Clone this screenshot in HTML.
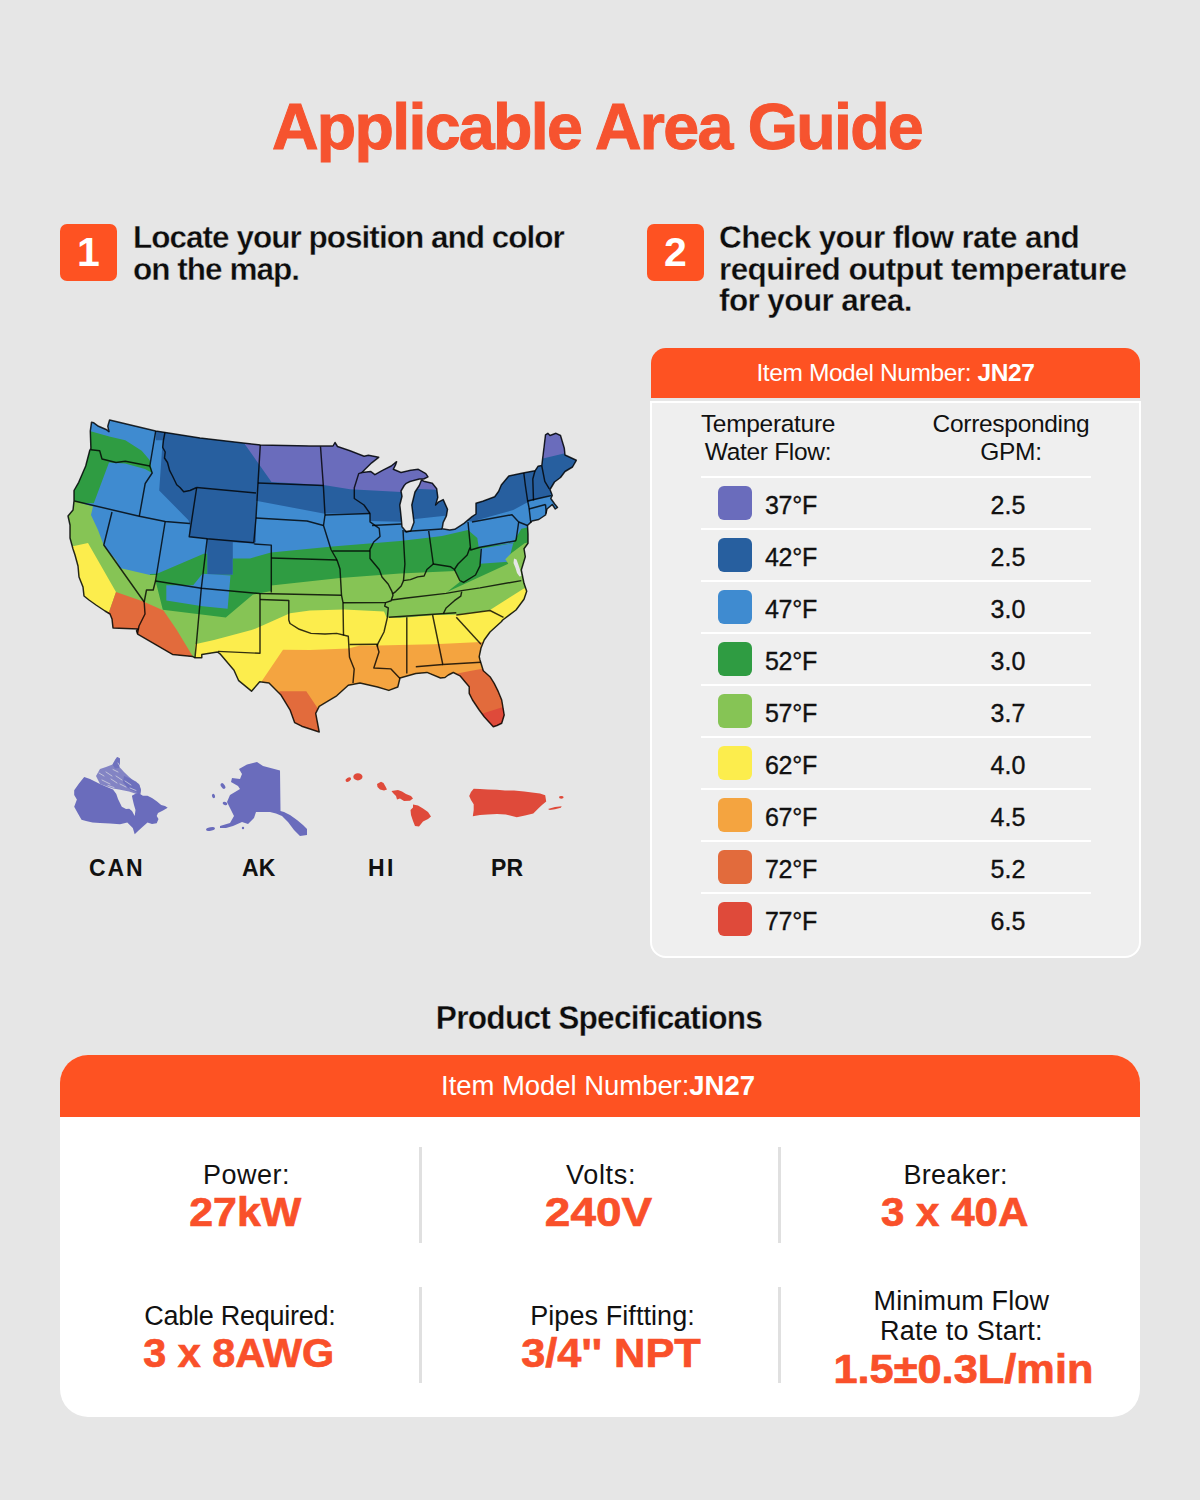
<!DOCTYPE html>
<html><head><meta charset="utf-8">
<style>
*{margin:0;padding:0;box-sizing:border-box}
html,body{width:1200px;height:1500px;overflow:hidden}
body{background:#e6e6e6;font-family:"Liberation Sans",sans-serif;position:relative;color:#111}
.a{position:absolute;white-space:nowrap;line-height:1}
.or{color:#f9502a}
.b{font-weight:700}
#title{left:-3px;width:1200px;text-align:center;top:95px;font-size:64.5px;font-weight:700;letter-spacing:-1.7px;color:#f6532f;-webkit-text-stroke:1px #f6532f}
.num{width:57px;height:57px;border-radius:7px;background:#fe5222;color:#fff;font-weight:700;font-size:41px;text-align:center;line-height:57px}
.step{font-weight:700;font-size:31.5px;line-height:31.7px;letter-spacing:-0.6px;color:#0d0d0d;-webkit-text-stroke:0.35px #e6e6e6}
#th{left:651px;top:348px;width:489px;height:50px;background:#fe5222;border-radius:15px 15px 0 0;color:#fff;font-size:24.5px;text-align:center;line-height:50px;letter-spacing:-0.4px}
#tb{left:650px;top:400.5px;width:491px;height:557.5px;background:#efefef;border:2.5px solid #fff;border-top-width:2.5px;border-radius:0 0 16px 16px}
.sep{position:absolute;left:701px;width:390px;height:2px;background:#fff}
.sw{position:absolute;left:718px;width:34px;height:34px;border-radius:6px}
.tt{position:absolute;left:765px;font-size:25px;line-height:1;color:#111;letter-spacing:-0.3px;-webkit-text-stroke:0.35px #111}
.gv{position:absolute;left:958px;width:100px;text-align:center;font-size:25px;line-height:1;color:#111;-webkit-text-stroke:0.35px #111}
.ch{position:absolute;font-size:24.5px;line-height:27.7px;text-align:center;color:#111;letter-spacing:-0.3px}
#ps{left:-1.5px;width:1200px;text-align:center;top:1000.5px;font-size:33.5px;font-weight:700;letter-spacing:-0.8px;color:#0d0d0d;transform:scaleX(0.945);-webkit-text-stroke:0.35px #e6e6e6}
#card{left:60px;top:1055px;width:1080px;height:362px;background:#fff;border-radius:28px;overflow:hidden}
#ch{position:absolute;left:0;text-indent:-4px;top:0;width:1080px;height:62px;background:#fe5222;color:#fff;font-size:27.5px;text-align:center;line-height:62px;letter-spacing:-0.05px}
.dv{position:absolute;width:3px;background:#e0e0e0}
.lab{position:absolute;text-align:center;font-size:27px;line-height:1;color:#111;letter-spacing:0px}
.val{position:absolute;text-align:center;font-size:41.5px;line-height:1;font-weight:700;color:#f9502a;-webkit-text-stroke:0.7px #f9502a}
.val span{display:inline-block;transform-origin:50% 50%}
.ml{position:absolute;font-weight:700;font-size:23px;line-height:1;color:#111;text-align:center;width:100px}
</style></head><body>

<div id="title" class="a">Applicable Area Guide</div>

<div class="a num" style="left:60px;top:224px">1</div>
<div class="a step" style="left:133px;top:222px;letter-spacing:-0.98px">Locate your position and color<br>on the map.</div>

<div class="a num" style="left:647px;top:224px">2</div>
<div class="a step" style="left:719px;top:222px">Check your flow rate and<br>required output temperature<br>for your area.</div>

<!-- MAP -->
<svg style="position:absolute;left:0;top:0" width="600" height="900" viewBox="0 0 600 900">
<defs><clipPath id="us"><path d="M91.5,422.3 L93.8,422.8 L98.5,426.3 L106.7,429.8 L109.0,431.6 L107.8,426.3 L109.6,419.9 L155.7,431.0 L200.0,438.0 L260.3,444.9 L310.0,446.0 L333.0,446.0 L335.0,442.5 L337.5,446.5 L350.0,450.8 L364.1,456.3 L368.4,455.2 L378.7,457.3 L371.7,462.8 L364.1,470.3 L362.0,472.5 L370.6,471.4 L374.9,474.7 L382.5,470.3 L391.2,466.0 L396.6,461.7 L395.5,464.9 L393.3,469.3 L401.0,472.5 L410.7,470.3 L418.3,469.3 L425.8,473.6 L428.0,476.8 L423.7,479.0 L419.3,479.0 L410.0,481.5 L406.3,483.3 L404.2,485.5 L401.0,491.0 L402.0,496.3 L399.8,505.0 L401.0,515.8 L402.0,526.7 L406.3,532.0 L410.7,531.0 L414.0,522.3 L411.8,505.0 L415.0,492.0 L419.3,485.5 L421.5,480.0 L423.7,481.2 L432.3,483.3 L436.7,488.8 L437.8,497.4 L435.6,505.0 L438.8,501.8 L443.2,499.6 L447.5,509.3 L446.4,515.8 L443.2,522.3 L442.1,528.8 L449.7,529.9 L454.7,529.3 L464.0,523.3 L472.0,516.7 L476.0,514.0 L476.0,503.3 L482.7,501.3 L494.7,496.7 L498.7,491.3 L501.3,485.0 L508.8,476.0 L523.0,473.0 L535.0,470.8 L538.0,466.3 L541.8,465.5 L544.0,447.5 L545.5,434.8 L547.8,433.3 L550.0,435.5 L556.0,433.3 L560.5,435.5 L564.3,448.3 L565.0,455.0 L576.3,460.3 L572.5,467.0 L565.0,471.5 L560.5,477.5 L554.5,482.0 L550.0,489.5 L552.3,495.5 L550.8,498.5 L554.5,503.8 L557.5,507.5 L555.3,509.0 L552.3,504.5 L547.0,509.0 L545.5,515.0 L538.8,519.5 L532.0,521.0 L527.5,525.5 L528.0,534.0 L528.0,543.3 L524.0,548.7 L525.3,556.7 L521.3,570.0 L524.0,583.3 L526.7,591.3 L524.0,599.3 L516.0,610.0 L502.7,620.0 L501.3,621.8 L490.0,632.0 L484.2,640.0 L481.0,648.0 L479.2,656.7 L480.0,660.0 L483.3,670.8 L490.0,676.7 L494.2,683.3 L498.3,691.7 L501.7,700.0 L504.2,715.0 L501.7,723.3 L497.0,725.5 L493.3,726.7 L491.7,725.0 L484.2,716.7 L479.2,710.0 L472.5,700.0 L469.2,693.3 L469.2,686.7 L465.0,681.7 L460.0,675.8 L453.3,672.5 L448.3,675.0 L445.0,677.5 L440.5,678.0 L427.0,672.4 L415.8,673.5 L400.0,678.0 L397.8,687.0 L388.8,690.4 L377.5,687.0 L360.0,683.0 L348.3,685.3 L336.7,695.8 L325.0,702.8 L319.2,706.3 L315.7,713.3 L319.2,732.0 L301.7,726.2 L294.7,722.7 L290.0,709.8 L280.7,694.7 L269.0,683.0 L259.7,681.8 L251.5,691.2 L238.7,680.7 L234.0,670.2 L220.0,653.8 L217.5,652.0 L201.8,654.4 L201.8,657.8 L195.0,657.8 L192.8,656.6 L172.5,654.4 L137.6,634.1 L136.5,630.8 L138.0,629.0 L113.0,628.0 L112.0,619.0 L110.0,614.0 L105.0,611.0 L96.0,605.0 L89.0,600.0 L84.0,596.0 L83.0,587.0 L79.0,577.0 L78.0,566.0 L75.0,555.0 L73.0,549.0 L70.0,538.0 L70.0,525.0 L68.0,516.0 L73.0,510.0 L74.0,501.0 L74.0,490.5 L78.7,482.3 L85.7,466.0 L89.8,450.3 L90.9,448.5 L90.3,431.0 Z"/></clipPath></defs>
<g clip-path="url(#us)">
<rect x="50" y="400" width="550" height="350" fill="#3f8bd0"/>
<polygon points="155.7,415.0 600.0,415.0 600.0,490.0 560.0,490.0 549.3,495.3 528.0,502.0 513.3,510.0 472.0,521.4 455.0,520.0 445.3,515.8 415.0,519.0 400.0,521.7 370.0,521.0 370.0,513.5 323.5,513.5 256.0,500.7 256.0,542.0 253.7,543.5 232.8,542.2 232.8,574.8 207.2,574.8 207.2,538.7 189.7,537.0 189.7,523.5 188.3,520.0 159.2,490.5 162.7,440.3 155.7,440.3" fill="#275f9f"/>
<polygon points="244.5,415.0 244.5,443.8 271.5,482.0 323.5,485.0 350.0,489.3 401.0,492.0 415.0,488.8 436.7,489.8 460.0,490.0 460.0,415.0" fill="#6a6cbc"/>
<polygon points="543.0,458.5 566.0,453.0 580.0,440.0 540.0,425.0" fill="#6a6cbc"/>
<polygon points="60.0,431.0 91.5,431.6 110.2,436.8 125.3,440.3 141.7,450.8 149.8,460.2 152.2,473.0 145.0,469.0 125.0,463.5 109.0,462.5 93.8,503.3 60.0,503.0" fill="#2f9c42"/>
<polygon points="157.0,573.7 203.7,553.8 207.2,553.8 207.2,574.8 232.8,574.8 232.8,558.5 250.0,558.5 271.0,552.5 332.5,546.5 400.0,541.0 430.0,537.5 442.0,536.0 468.0,530.0 477.3,538.0 478.7,547.3 513.3,543.0 521.3,528.7 545.0,524.0 545.0,660.0 150.0,660.0 150.0,574.0" fill="#2f9c42"/>
<polygon points="166.3,585.3 193.2,585.3 202.5,573.7 230.5,575.4 227.6,608.7 202.5,606.3 166.3,600.5" fill="#3f8bd0"/>
<polygon points="480.2,548.7 513.3,543.3 508.3,561.7 480.2,563.8" fill="#3f8bd0"/>
<polygon points="60.0,501.0 74.6,501.0 93.0,506.5 91.0,515.0 98.0,530.0 104.0,546.0 116.0,560.0 120.0,568.0 150.0,575.0 157.0,575.0 155.8,581.8 162.8,609.8 225.8,617.4 252.7,594.7 271.3,591.0 271.3,585.5 340.0,578.0 400.0,573.6 455.3,571.0 461.0,581.0 447.0,592.0 508.3,563.8 505.3,559.3 511.6,553.0 524.6,543.3 540.0,540.0 540.0,700.0 60.0,700.0" fill="#86c455"/>
<polygon points="60.0,546.0 74.0,546.0 88.0,543.0 116.0,592.0 109.0,612.0 60.0,612.0" fill="#fced4d"/>
<polygon points="195.0,644.3 214.0,640.0 251.5,630.0 255.8,628.5 290.0,613.3 310.0,610.5 343.8,609.4 384.0,611.5 386.5,617.3 400.0,618.0 436.0,615.0 454.2,614.8 490.0,610.0 523.5,588.8 540.0,584.0 540.0,740.0 195.0,740.0" fill="#fced4d"/>
<polygon points="262.0,680.7 283.0,649.8 310.0,649.9 348.3,648.5 360.0,645.5 377.5,645.5 433.8,644.3 481.0,642.0 540.0,640.0 540.0,740.0 262.0,740.0" fill="#f4a440"/>
<polygon points="116.0,592.0 143.3,601.5 163.5,610.5 176.8,630.0 192.8,656.6 100.0,680.0 60.0,680.0 60.0,612.0 109.0,612.0" fill="#e26b3c"/>
<polygon points="279.5,691.2 306.3,691.2 318.0,708.7 330.0,740.0 270.0,740.0" fill="#e26b3c"/>
<polygon points="452.0,674.5 470.0,671.0 484.0,668.5 520.0,668.0 520.0,740.0 452.0,740.0" fill="#e26b3c"/>
<polygon points="481.0,714.0 502.4,707.3 520.0,706.0 520.0,740.0 481.0,740.0" fill="#df4a3a"/>
<polygon points="514,558.5 516.5,559.5 518.5,565 520.5,571 521.5,576 519.5,576.5 517,573 515.5,568 513.5,563" fill="#e6e6e6"/>
</g>
<g fill="none" stroke="#000" stroke-opacity="0.8" stroke-width="1.45" stroke-linejoin="round">
<polyline points="90.9,449.7 99.7,450.8 102.0,459.0 116.0,462.5 125.3,461.3 149.8,466.0"/>
<polyline points="155.7,431.0 149.8,466.0 152.2,473.0 145.2,483.5 139.3,516.2"/>
<polyline points="74.3,501.0 139.3,516.2 165.2,521.5 189.7,523.5"/>
<polyline points="112.0,512.0 103.8,545.0 144.2,602.0"/>
<polyline points="165.2,521.5 155.5,581.0 153.2,590.0 146.5,590.0 144.2,602.0 145.0,614.0 139.0,626.0 137.5,633.5"/>
<polyline points="165.0,432.3 163.5,440.0 162.7,447.3 165.2,452.0 164.5,458.0 167.5,462.5 169.7,470.7 172.5,476.0 176.7,484.7 180.0,487.5 183.7,491.7 190.0,490.5 196.7,487.5"/>
<polyline points="196.7,487.5 189.2,536.7 207.2,538.7 253.8,542.8"/>
<polyline points="190.0,523.3 189.5,523.5"/>
<polyline points="196.7,487.5 256.0,493.0"/>
<polyline points="260.3,444.9 258.0,483.0 256.0,518.0 253.8,542.8"/>
<polyline points="258.0,483.0 323.5,485.5"/>
<polyline points="256.0,518.0 307.0,521.0 323.5,525.5"/>
<polyline points="253.8,543.9 271.3,545.1 271.3,592.5"/>
<polyline points="271.3,558.0 337.0,560.0"/>
<polyline points="207.2,538.7 201.3,588.3 196.7,640.0 195.0,657.8"/>
<polyline points="155.5,581.0 201.3,588.3 259.7,593.5 341.5,595.2"/>
<polyline points="260.0,593.5 260.0,653.3 218.0,651.4"/>
<polyline points="260.0,599.5 288.8,600.5 288.8,620.0 290.0,623.5 299.3,629.3 311.0,633.4 325.0,634.0 336.7,633.4 348.3,636.3 349.5,657.3 354.2,669.0 353.0,683.0"/>
<polyline points="349.5,644.5 377.0,644.3"/>
<polyline points="320.5,446.5 323.5,488.0 325.0,515.0 323.5,525.5 331.0,549.5 337.0,560.0 340.0,569.0 341.5,595.2 343.0,602.7 343.5,635.5"/>
<polyline points="325.0,515.0 370.0,513.5"/>
<polyline points="332.5,551.0 370.0,551.0"/>
<polyline points="362.0,472.5 358.7,473.6 354.3,487.7 354.3,498.5 364.0,505.0 370.0,513.5 370.0,521.8 379.2,528.3 380.0,536.5 373.7,542.0 370.0,549.4 370.0,558.5 379.2,569.5 382.0,577.0 388.3,584.2 392.0,591.6 393.0,595.2 391.1,600.7 385.6,602.6 384.7,606.2 388.3,608.0 387.4,617.3 384.0,632.0 377.0,645.3 379.0,652.0 373.8,668.0 391.0,668.9 400.0,678.5"/>
<polyline points="343.0,602.7 385.6,602.6"/>
<polyline points="372.0,525.5 401.5,524.0"/>
<polyline points="403.0,530.0 404.9,564.0 403.5,580.6"/>
<polyline points="428.7,531.0 433.3,564.0"/>
<polyline points="404.5,531.5 442.0,529.0"/>
<polyline points="392.8,593.6 395.7,591.6 401.2,586.0 403.5,580.6 410.4,579.6 417.7,576.9 424.1,576.0 426.9,569.5 433.3,564.0 439.7,565.0 450.7,566.8 454.4,569.5 458.0,564.0 467.2,554.9 470.0,547.5"/>
<polyline points="468.0,522.0 470.7,550.0 480.0,547.3 516.0,540.7"/>
<polyline points="472.0,522.0 512.0,514.7 518.7,522.0 516.0,540.7"/>
<polyline points="454.4,569.5 459.9,580.6 463.6,582.4 475.5,575.0 480.0,565.9 481.3,548.7"/>
<polyline points="391.5,600.0 406.7,598.0 446.1,593.4 461.7,590.6 480.0,587.9 521.3,580.6"/>
<polyline points="461.7,591.6 460.8,596.1 454.4,600.7 446.1,608.0 443.4,613.6"/>
<polyline points="388.8,617.3 456.3,612.8"/>
<polyline points="406.8,617.3 406.8,673.5"/>
<polyline points="432.6,615.0 442.8,664.5 481.0,662.3"/>
<polyline points="415.8,666.8 442.8,664.5"/>
<polyline points="456.3,615.0 490.0,610.5 503.5,617.3"/>
<polyline points="456.3,617.3 481.0,644.3"/>
<polyline points="377.5,646.5 377.5,644.0"/>
<polyline points="523.8,473.0 525.3,485.0 527.5,500.0 529.0,507.5 530.5,520.3 531.0,523.0"/>
<polyline points="535.0,470.8 532.8,479.0 533.5,500.5"/>
<polyline points="541.8,466.0 544.8,481.3 549.3,488.8"/>
<polyline points="527.5,501.0 551.5,495.5"/>
<polyline points="529.0,509.0 545.5,504.5"/>
<polyline points="545.5,504.5 546.3,513.5"/>
<polyline points="518.7,522.0 527.5,525.5"/>
</g>
<path d="M91.5,422.3 L93.8,422.8 L98.5,426.3 L106.7,429.8 L109.0,431.6 L107.8,426.3 L109.6,419.9 L155.7,431.0 L200.0,438.0 L260.3,444.9 L310.0,446.0 L333.0,446.0 L335.0,442.5 L337.5,446.5 L350.0,450.8 L364.1,456.3 L368.4,455.2 L378.7,457.3 L371.7,462.8 L364.1,470.3 L362.0,472.5 L370.6,471.4 L374.9,474.7 L382.5,470.3 L391.2,466.0 L396.6,461.7 L395.5,464.9 L393.3,469.3 L401.0,472.5 L410.7,470.3 L418.3,469.3 L425.8,473.6 L428.0,476.8 L423.7,479.0 L419.3,479.0 L410.0,481.5 L406.3,483.3 L404.2,485.5 L401.0,491.0 L402.0,496.3 L399.8,505.0 L401.0,515.8 L402.0,526.7 L406.3,532.0 L410.7,531.0 L414.0,522.3 L411.8,505.0 L415.0,492.0 L419.3,485.5 L421.5,480.0 L423.7,481.2 L432.3,483.3 L436.7,488.8 L437.8,497.4 L435.6,505.0 L438.8,501.8 L443.2,499.6 L447.5,509.3 L446.4,515.8 L443.2,522.3 L442.1,528.8 L449.7,529.9 L454.7,529.3 L464.0,523.3 L472.0,516.7 L476.0,514.0 L476.0,503.3 L482.7,501.3 L494.7,496.7 L498.7,491.3 L501.3,485.0 L508.8,476.0 L523.0,473.0 L535.0,470.8 L538.0,466.3 L541.8,465.5 L544.0,447.5 L545.5,434.8 L547.8,433.3 L550.0,435.5 L556.0,433.3 L560.5,435.5 L564.3,448.3 L565.0,455.0 L576.3,460.3 L572.5,467.0 L565.0,471.5 L560.5,477.5 L554.5,482.0 L550.0,489.5 L552.3,495.5 L550.8,498.5 L554.5,503.8 L557.5,507.5 L555.3,509.0 L552.3,504.5 L547.0,509.0 L545.5,515.0 L538.8,519.5 L532.0,521.0 L527.5,525.5 L528.0,534.0 L528.0,543.3 L524.0,548.7 L525.3,556.7 L521.3,570.0 L524.0,583.3 L526.7,591.3 L524.0,599.3 L516.0,610.0 L502.7,620.0 L501.3,621.8 L490.0,632.0 L484.2,640.0 L481.0,648.0 L479.2,656.7 L480.0,660.0 L483.3,670.8 L490.0,676.7 L494.2,683.3 L498.3,691.7 L501.7,700.0 L504.2,715.0 L501.7,723.3 L497.0,725.5 L493.3,726.7 L491.7,725.0 L484.2,716.7 L479.2,710.0 L472.5,700.0 L469.2,693.3 L469.2,686.7 L465.0,681.7 L460.0,675.8 L453.3,672.5 L448.3,675.0 L445.0,677.5 L440.5,678.0 L427.0,672.4 L415.8,673.5 L400.0,678.0 L397.8,687.0 L388.8,690.4 L377.5,687.0 L360.0,683.0 L348.3,685.3 L336.7,695.8 L325.0,702.8 L319.2,706.3 L315.7,713.3 L319.2,732.0 L301.7,726.2 L294.7,722.7 L290.0,709.8 L280.7,694.7 L269.0,683.0 L259.7,681.8 L251.5,691.2 L238.7,680.7 L234.0,670.2 L220.0,653.8 L217.5,652.0 L201.8,654.4 L201.8,657.8 L195.0,657.8 L192.8,656.6 L172.5,654.4 L137.6,634.1 L136.5,630.8 L138.0,629.0 L113.0,628.0 L112.0,619.0 L110.0,614.0 L105.0,611.0 L96.0,605.0 L89.0,600.0 L84.0,596.0 L83.0,587.0 L79.0,577.0 L78.0,566.0 L75.0,555.0 L73.0,549.0 L70.0,538.0 L70.0,525.0 L68.0,516.0 L73.0,510.0 L74.0,501.0 L74.0,490.5 L78.7,482.3 L85.7,466.0 L89.8,450.3 L90.9,448.5 L90.3,431.0 Z" fill="none" stroke="#000" stroke-opacity="0.82" stroke-width="1.5" stroke-linejoin="round"/>
<polygon points="74.2,790.3 79.0,783.5 84.2,777.0 90.0,779.0 95.0,781.5 100.0,784.0 107.0,787.0 113.0,789.5 116.3,794.0 118.0,799.0 121.8,806.8 126.0,809.0 129.2,808.7 132.0,811.0 134.7,816.0 135.5,810.0 134.0,805.0 132.8,800.0 131.9,795.8 135.0,794.0 138.3,793.0 142.9,795.8 147.5,795.8 152.0,798.0 156.7,801.3 161.2,805.0 165.0,806.0 167.7,807.7 163.0,810.5 158.0,813.0 156.7,816.0 158.5,819.0 156.7,823.3 152.0,824.0 147.5,822.4 143.0,826.5 138.3,830.7 134.7,834.3 132.8,827.9 127.3,822.4 120.0,824.2 110.0,823.5 100.0,823.0 92.5,822.4 86.0,821.0 81.5,819.7 77.8,813.2 74.2,806.8 76.9,799.5 74.2,795.0" fill="#6a6cbc"/>
<polygon points="96.0,776.0 100.0,769.0 106.0,767.0 112.5,764.5 117.0,757.0 120.0,758.5 119.5,767.0 124.0,772.0 129.2,777.0 134.0,781.0 139.0,784.0 141.0,790.0 140.0,796.0 135.0,793.5 129.0,791.5 124.0,790.5 119.0,789.5 113.0,788.5 107.0,786.5 100.0,784.0" fill="#6a6cbc" fill-opacity="0.8"/>
<polygon points="124.0,776.0 130.0,778.5 136.0,781.5 139.5,785.0 141.0,790.0 140.0,795.0 136.0,792.0 131.0,790.0 127.0,787.0 123.0,782.0" fill="#6a6cbc" fill-opacity="0.85"/>
<polygon points="112.5,764.5 115.5,759.0 117.5,757.0 120.0,758.5 120.0,763.0 119.0,768.0 115.0,768.5" fill="#6a6cbc" fill-opacity="0.75"/>
<g stroke="#e6e6e6" stroke-width="0.8" stroke-opacity="0.8" fill="none" stroke-linecap="round">
<polyline points="99.0,773.0 104.0,776.0"/>
<polyline points="102.0,780.0 110.0,784.0"/>
<polyline points="106.0,772.0 112.0,776.0"/>
<polyline points="111.0,779.0 117.0,783.0"/>
<polyline points="113.0,769.5 118.0,772.0"/>
<polyline points="116.0,776.0 122.0,780.0"/>
<polyline points="120.0,784.0 126.0,787.0"/>
<polyline points="125.0,781.0 131.0,785.0"/>
<polyline points="118.0,763.0 121.0,768.0"/>
<polyline points="108.0,785.5 114.0,787.5"/>
<polyline points="130.0,788.0 136.0,790.5"/>
</g>
<polygon points="239.0,769.0 247.0,764.5 257.0,762.0 263.0,766.0 280.0,770.5 280.5,811.0 284.0,812.0 290.0,815.0 297.0,820.0 303.0,825.0 307.0,829.0 307.0,835.0 300.0,836.0 294.0,830.0 288.0,822.0 282.0,816.0 276.0,813.5 270.0,812.0 264.0,812.0 256.0,812.0 254.0,818.0 248.0,824.0 242.0,822.0 233.0,826.0 226.0,828.0 220.0,828.0 220.0,826.0 230.0,823.0 234.0,816.0 231.0,810.0 227.0,802.0 230.0,795.0 235.0,792.0 240.0,789.0 238.0,786.0 231.0,782.0 232.0,778.0 240.0,779.0 242.0,774.0" fill="#6a6cbc"/>
<ellipse cx="210.5" cy="829" rx="4.5" ry="1.8" transform="rotate(-10 210.5 829)" fill="#6a6cbc"/>
<ellipse cx="223" cy="786" rx="1.8" ry="3.2" transform="rotate(-35 223 786)" fill="#6a6cbc"/>
<ellipse cx="213.5" cy="796" rx="1.5" ry="2.2" transform="rotate(-20 213.5 796)" fill="#6a6cbc"/>
<ellipse cx="225" cy="803.5" rx="2.4" ry="1.6" transform="rotate(20 225 803.5)" fill="#6a6cbc"/>
<ellipse cx="243" cy="828" rx="1.2" ry="1.2" transform="rotate(0 243 828)" fill="#6a6cbc"/>
<ellipse cx="348.3" cy="779.6" rx="3" ry="1.9" transform="rotate(-30 348.3 779.6)" fill="#df4a3a"/>
<ellipse cx="357.9" cy="776.8" rx="4.6" ry="3.6" fill="#df4a3a"/>
<polygon points="377.0,784.0 381.0,781.8 383.5,783.0 385.5,786.5 387.0,789.5 384.0,790.5 380.0,789.5 377.5,787.0" fill="#df4a3a"/>
<polygon points="391.5,791.0 398.0,790.0 402.0,791.5 406.0,794.0 411.0,796.0 413.0,798.5 410.0,800.8 404.0,801.0 400.0,798.5 397.0,799.5 396.0,796.0 393.0,793.0" fill="#df4a3a"/>
<polygon points="413.0,804.5 418.0,805.5 423.0,808.5 428.0,812.0 431.0,816.5 428.0,819.0 423.0,821.5 419.0,826.5 415.0,826.0 413.0,821.0 411.0,815.0 410.5,810.0 413.0,807.5" fill="#df4a3a"/>
<polygon points="473.7,788.7 480.0,789.0 488.0,789.5 496.7,789.7 505.0,790.5 514.0,790.6 524.2,791.5 532.0,792.5 540.0,793.5 545.2,795.2 546.2,801.6 542.0,805.0 538.8,808.0 533.3,813.5 525.0,815.5 516.8,817.2 510.0,815.5 505.8,814.4 497.0,814.0 487.5,814.4 480.0,815.0 472.8,816.2 473.7,810.0 473.7,804.3 471.0,800.0 469.2,796.1 471.0,792.0" fill="#df4a3a"/>
<polygon points="548.0,809.0 555.0,807.0 561.7,806.2 560.8,807.8 555.0,809.3 549.8,810.0" fill="#df4a3a"/>
<ellipse cx="561.3" cy="797.3" rx="2.3" ry="1.4" fill="#df4a3a"/>
</svg>

<!-- table -->
<div id="th" class="a">Item Model Number: <b>JN27</b></div>
<div id="tb" class="a"></div>
<div class="ch" style="left:668px;width:200px;top:410px">Temperature<br>Water Flow:</div>
<div class="ch" style="left:911px;width:200px;top:410px">Corresponding<br>GPM:</div>
<div class="sep" style="top:475.5px"></div>
<div class="sw" style="top:486px;background:#6a6cbc"></div>
<div class="tt" style="top:493px">37°F</div>
<div class="gv" style="top:493px">2.5</div>
<div class="sep" style="top:527.5px"></div>
<div class="sw" style="top:538px;background:#275f9f"></div>
<div class="tt" style="top:545px">42°F</div>
<div class="gv" style="top:545px">2.5</div>
<div class="sep" style="top:579.5px"></div>
<div class="sw" style="top:590px;background:#3f8bd0"></div>
<div class="tt" style="top:597px">47°F</div>
<div class="gv" style="top:597px">3.0</div>
<div class="sep" style="top:631.5px"></div>
<div class="sw" style="top:642px;background:#2f9c42"></div>
<div class="tt" style="top:649px">52°F</div>
<div class="gv" style="top:649px">3.0</div>
<div class="sep" style="top:683.5px"></div>
<div class="sw" style="top:694px;background:#86c455"></div>
<div class="tt" style="top:701px">57°F</div>
<div class="gv" style="top:701px">3.7</div>
<div class="sep" style="top:735.5px"></div>
<div class="sw" style="top:746px;background:#fced4d"></div>
<div class="tt" style="top:753px">62°F</div>
<div class="gv" style="top:753px">4.0</div>
<div class="sep" style="top:787.5px"></div>
<div class="sw" style="top:798px;background:#f4a440"></div>
<div class="tt" style="top:805px">67°F</div>
<div class="gv" style="top:805px">4.5</div>
<div class="sep" style="top:839.5px"></div>
<div class="sw" style="top:850px;background:#e26b3c"></div>
<div class="tt" style="top:857px">72°F</div>
<div class="gv" style="top:857px">5.2</div>
<div class="sep" style="top:891.5px"></div>
<div class="sw" style="top:902px;background:#df4a3a"></div>
<div class="tt" style="top:909px">77°F</div>
<div class="gv" style="top:909px">6.5</div>

<div id="ps" class="a">Product Specifications</div>
<div id="card" class="a">
  <div id="ch">Item Model Number:<b>JN27</b></div>
</div>
<div class="lab" style="left:46.50px;width:400px;top:1161.5px;letter-spacing:0.5px">Power:</div>
<div class="lab" style="left:401.10px;width:400px;top:1161.5px;letter-spacing:0.7px">Volts:</div>
<div class="lab" style="left:755.64px;width:400px;top:1161.5px;letter-spacing:0.29px">Breaker:</div>
<div class="lab" style="left:39.88px;width:400px;top:1302.5px;letter-spacing:-0.25px">Cable Required:</div>
<div class="lab" style="left:412.54px;width:400px;top:1302.5px;letter-spacing:0.07px">Pipes Fiftting:</div>
<div class="lab" style="left:761.32px;width:400px;top:1288px;letter-spacing:0.13px">Minimum Flow</div>
<div class="lab" style="left:761.38px;width:400px;top:1318px;letter-spacing:0.27px">Rate to Start:</div>
<div class="val" style="left:-5.25px;width:500px;top:1191px"><span style="transform:scaleX(1.033)">27kW</span></div>
<div class="val" style="left:348.00px;width:500px;top:1191px"><span style="transform:scaleX(1.106)">240V</span></div>
<div class="val" style="left:705.00px;width:500px;top:1191px"><span style="transform:scaleX(1.014)">3 x 40A</span></div>
<div class="val" style="left:-11.25px;width:500px;top:1332px"><span style="transform:scaleX(0.997)">3 x 8AWG</span></div>
<div class="val" style="left:361.25px;width:500px;top:1332px"><span style="transform:scaleX(1.044)">3/4'' NPT</span></div>
<div class="val" style="left:713.00px;width:500px;top:1347.5px"><span style="transform:scaleX(1.045)">1.5±0.3L/min</span></div>
<div class="dv" style="left:419px;top:1147px;height:96px"></div>
<div class="dv" style="left:419px;top:1287px;height:96px"></div>
<div class="dv" style="left:778px;top:1147px;height:96px"></div>
<div class="dv" style="left:778px;top:1287px;height:96px"></div>
<div class="ml" style="left:66.7px;top:856.5px;letter-spacing:1.8px">CAN</div>
<div class="ml" style="left:208.85px;top:856.5px;letter-spacing:0.3px">AK</div>
<div class="ml" style="left:331.95px;top:856.5px;letter-spacing:2.5px">HI</div>
<div class="ml" style="left:457.1px;top:856.5px;letter-spacing:0.2px">PR</div>

</body></html>
